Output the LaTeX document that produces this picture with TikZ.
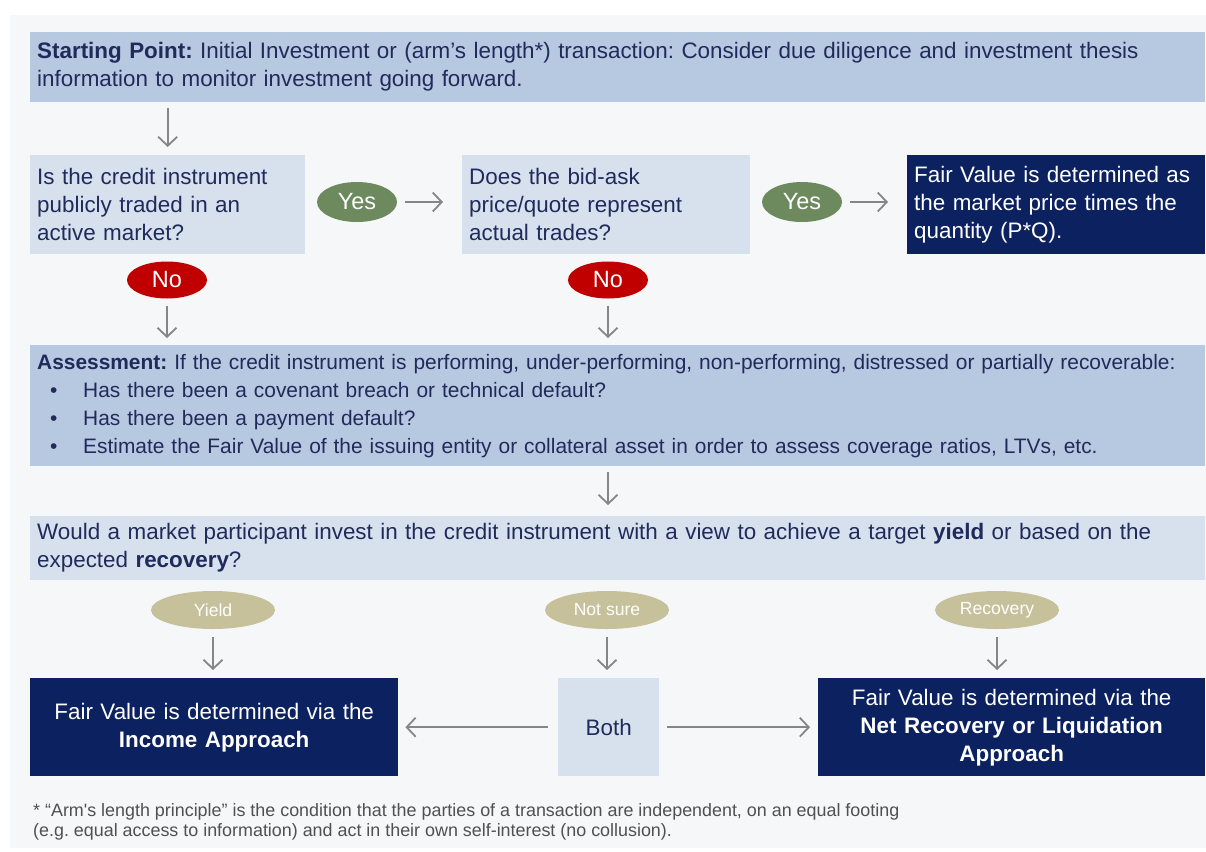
\documentclass[tikz,border=0pt]{standalone}
\usepackage{fontspec}
\setmainfont{Liberation Sans}
\usetikzlibrary{positioning,arrows.meta,shapes.geometric}
\frenchspacing

\definecolor{panelgray}{HTML}{F6F7F8}
\definecolor{boxblue}{HTML}{B7C8E1}
\definecolor{paleblue}{HTML}{D7E1EE}
\definecolor{navy}{HTML}{0C2160}
\definecolor{inknavy}{HTML}{1F2B5B}
\definecolor{yesgreen}{HTML}{6C8A5E}
\definecolor{nored}{HTML}{C00000}
\definecolor{khaki}{HTML}{C6C09B}
\definecolor{arrowgray}{HTML}{868686}
\definecolor{notegray}{HTML}{505050}

\newcommand{\bodysize}{\fontsize{22.4}{28}\selectfont}
\newcommand{\listsize}{\fontsize{20.9}{28}\selectfont}
\newcommand{\answersize}{\fontsize{23.5}{28}\selectfont}
\newcommand{\tagsize}{\fontsize{17.6}{20}\selectfont}
\newcommand{\notesize}{\fontsize{17.9}{20}\selectfont}

\tikzstyle{block} = [rectangle, anchor=north west, inner xsep=7pt, inner ysep=0pt, align=left, text=inknavy, font=\bodysize]
\tikzstyle{question} = [block, fill=paleblue]
\tikzstyle{outcome} = [block, fill=navy, text=white]
\tikzstyle{answer} = [ellipse, inner sep=0pt, text=white, font=\answersize, minimum width=80pt]
\tikzstyle{choice} = [ellipse, inner sep=0pt, fill=khaki, text=white, font=\tagsize, minimum width=124pt, minimum height=38pt]
\tikzstyle{arrow} = [draw=arrowgray, line width=1.8pt, -{Straight Barb[length=9pt,width=19pt]}]

\begin{document}
\begin{tikzpicture}[x=1pt, y=-1pt]

    \useasboundingbox (0,0) rectangle (1206,851);
    \fill[white] (0,0) rectangle (1206,851);
    \fill[panelgray] (10,15) rectangle (1206,848);

    % first step
    \node[block, fill=boxblue, text width=1161pt, minimum height=70pt] (start) at (30,32)
        {\textbf{Starting Point:} Initial Investment or (arm's length*) transaction: Consider due diligence and investment thesis\\information to monitor investment going forward.};

    % market questions
    \node[question, text width=261pt, minimum height=99pt] (q1) at (30,155)
        {Is the credit instrument\\publicly traded in an\\active market?\\[-6pt]};
    \node[question, text width=274pt, minimum height=99pt] (q2) at (462,155)
        {Does the bid-ask\\price/quote represent\\actual trades?\\[-6pt]};
    \node[outcome, text width=284pt, minimum height=99pt] (pq) at (907,155)
        {Fair Value is determined as\\the market price times the\\quantity (P*Q).\\[-6pt]};

    \node[answer, fill=yesgreen, minimum height=40pt] (yes1) at (357,202) {Yes};
    \node[answer, fill=yesgreen, minimum height=40pt] (yes2) at (802,202) {Yes};
    \node[answer, fill=nored, minimum height=37pt] (no1) at (167,280) {No};
    \node[answer, fill=nored, minimum height=37pt] (no2) at (608,280) {No};

    % assessment
    \node[block, fill=boxblue, font=\listsize, text width=1161pt, minimum height=121pt] (assess) at (30,345)
        {\textbf{Assessment:} If the credit instrument is performing, under-performing, non-performing, distressed or partially recoverable:\\
        \hspace*{13pt}\makebox[33pt][l]{\textbullet}Has there been a covenant breach or technical default?\\
        \hspace*{13pt}\makebox[33pt][l]{\textbullet}Has there been a payment default?\\
        \hspace*{13pt}\makebox[33pt][l]{\textbullet}Estimate the Fair Value of the issuing entity or collateral asset in order to assess coverage ratios, LTVs, etc.};

    \node[question, text width=1161pt, minimum height=64pt] (view) at (30,516)
        {Would a market participant invest in the credit instrument with a view to achieve a target \textbf{yield} or based on the\\expected \textbf{recovery}?};

    \node[choice] (yield) at (213,610) {Yield};
    \node[choice] (notsure) at (607,610) {Not sure};
    \node[choice] (recovery) at (997,610) {Recovery};

    % approaches
    \node[outcome, align=center, text width=354pt, minimum height=98pt] (income) at (30,678)
        {Fair Value is determined via the\\\textbf{Income Approach}};
    \node[question, align=center, text width=87pt, minimum height=98pt] (both) at (558,678) {Both};
    \node[outcome, align=center, text width=373pt, minimum height=98pt] (netrec) at (818,678)
        {Fair Value is determined via the\\\textbf{Net Recovery or Liquidation}\\\textbf{Approach}};

    \node[anchor=north west, inner sep=0pt, align=left, text=notegray, font=\notesize] (note) at (33,803)
        {* “Arm\textquotesingle s length principle” is the condition that the parties of a transaction are independent, on an equal footing\\(e.g. equal access to information) and act in their own self-interest (no collusion).};

    \draw[arrow, shorten <=6pt, shorten >=8pt] (q1.north |- start.south) -- (q1.north);
    \draw[arrow, shorten <=8pt, shorten >=19pt] (yes1.east) -- (yes1.east -| q2.west);
    \draw[arrow, shorten <=8pt, shorten >=19pt] (yes2.east) -- (yes2.east -| pq.west);
    \draw[arrow, shorten <=7pt, shorten >=7pt] (no1.south) -- (no1.south |- assess.north);
    \draw[arrow, shorten <=7pt, shorten >=7pt] (no2.south) -- (no2.south |- assess.north);
    \draw[arrow, shorten <=6pt, shorten >=11pt] (no2.south |- assess.south) -- (no2.south |- view.north);
    \draw[arrow, shorten <=8pt, shorten >=8pt] (yield.south) -- (yield.south |- income.north);
    \draw[arrow, shorten <=8pt, shorten >=8pt] (notsure.south) -- (notsure.south |- both.north);
    \draw[arrow, shorten <=8pt, shorten >=8pt] (recovery.south) -- (recovery.south |- netrec.north);
    \draw[arrow, shorten <=10pt, shorten >=7pt] (both.west) -- (income.east);
    \draw[arrow, shorten <=8pt, shorten >=8pt] (both.east) -- (netrec.west);

\end{tikzpicture}
\end{document}
